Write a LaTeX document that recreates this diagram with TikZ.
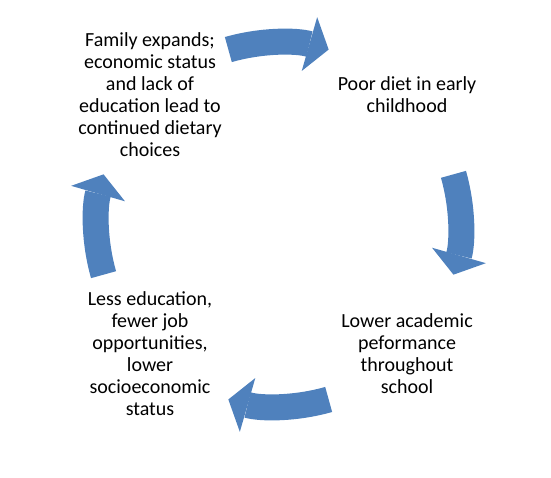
\documentclass[tikz,border=0pt]{standalone}
\usepackage{fontspec}
\setmainfont{Carlito}
\usetikzlibrary{positioning,calc,arrows.meta}
\definecolor{cycleblue}{HTML}{4F81BD}
\tikzstyle{stage} = [align=center, inner sep=0pt, font=\fontsize{20pt}{22pt}\selectfont]
\tikzstyle{cyclearrow} = [draw=cycleblue, line width=26pt, -{Triangle[length=20pt, width=56pt, line width=0pt, fill=cycleblue]}]

\begin{document}
\begin{tikzpicture}[x=1pt, y=1pt, node distance=257pt]
    \useasboundingbox (0,0) rectangle (551,-477);

    % Place nodes
    \node [stage] at (150,-95) (family) {Family expands;\\economic status\\and lack of\\education lead to\\continued dietary\\choices};
    \node [stage, right of=family] (diet) {Poor diet in early\\childhood};
    \node [stage, below of=diet, node distance=259pt] (school) {Lower academic\\peformance\\throughout\\school};
    \node [stage, left of=school] (status) {Less education,\\fewer job\\opportunities,\\lower\\socioeconomic\\status};
    \coordinate (hub) at ($(family)!0.5!(school)$);

    % Arrow tails
    \coordinate (top-tail) at ($(hub)+(106:182pt)$);
    \coordinate (right-tail) at ($(hub)+(16:182pt)$);
    \coordinate (bottom-tail) at ($(hub)+(-74:182pt)$);
    \coordinate (left-tail) at ($(hub)+(196:182pt)$);

    % Draw arrows
    \draw [cyclearrow] (top-tail) arc [start angle=106, end angle=74, radius=182pt];
    \draw [cyclearrow] (right-tail) arc [start angle=16, end angle=-16, radius=182pt];
    \draw [cyclearrow] (bottom-tail) arc [start angle=-74, end angle=-106, radius=182pt];
    \draw [cyclearrow] (left-tail) arc [start angle=196, end angle=164, radius=182pt];
\end{tikzpicture}
\end{document}
